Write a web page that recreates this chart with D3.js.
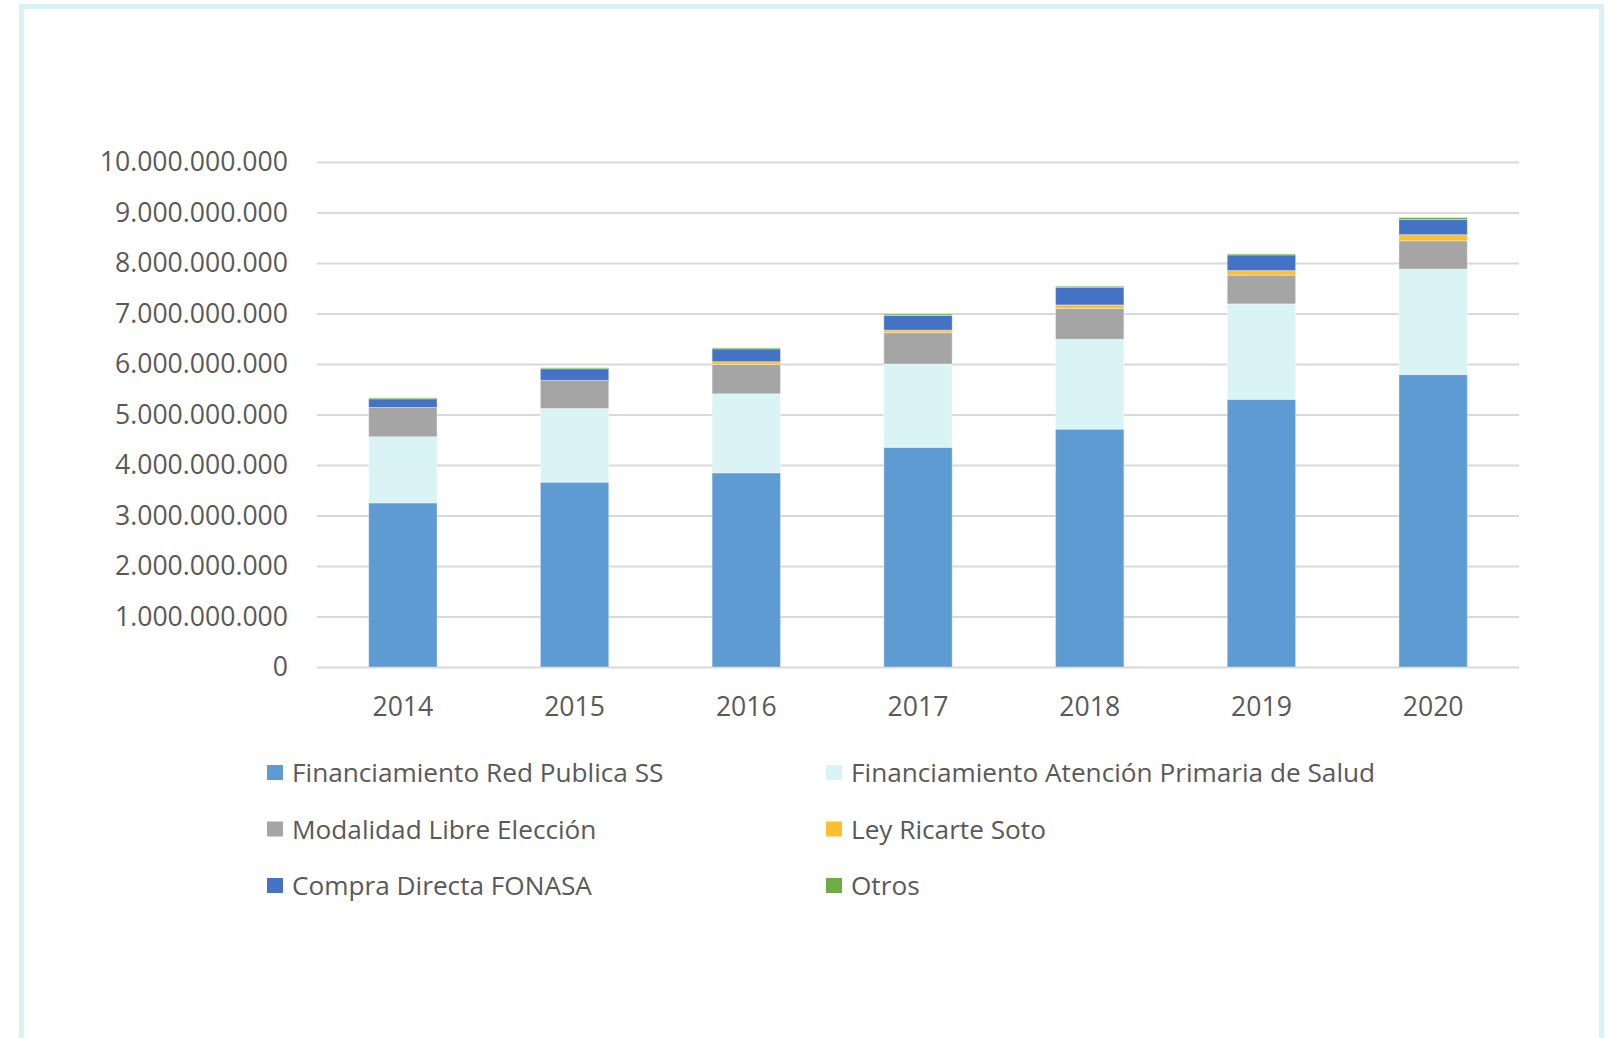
<!DOCTYPE html>
<html>
<head>
<meta charset="utf-8">
<title>Financiamiento</title>
<script src="https://cdnjs.cloudflare.com/ajax/libs/d3/7.8.5/d3.min.js"></script>
<style>
body { margin: 0; background: #fff; }
text { font-family: "Open Sans", sans-serif; fill: #595959; }
</style>
</head>
<body>
<div id="chart"></div>
<script>
// values (pesos)
var years = ["2014", "2015", "2016", "2017", "2018", "2019", "2020"];
var redPublica      = [3250000000, 3660000000, 3845000000, 4350000000, 4710000000, 5300000000, 5790000000];
var atencionPrimaria = [1310000000, 1460000000, 1565000000, 1650000000, 1780000000, 1890000000, 2090000000];
var libreEleccion   = [580000000, 555000000, 580000000, 620000000, 610000000, 570000000, 560000000];
var ricarteSoto     = [0, 0, 55000000, 50000000, 70000000, 90000000, 120000000];
var compraDirecta   = [170000000, 230000000, 255000000, 290000000, 350000000, 310000000, 300000000];
var otros           = [20000000, 20000000, 20000000, 30000000, 20000000, 20000000, 40000000];
var yTicks = [0, 1e9, 2e9, 3e9, 4e9, 5e9, 6e9, 7e9, 8e9, 9e9, 1e10];

var seriesNames = ["Financiamiento Red Publica SS", "Financiamiento Atención Primaria de Salud",
                   "Modalidad Libre Elección", "Ley Ricarte Soto", "Compra Directa FONASA", "Otros"];
var seriesValues = [redPublica, atencionPrimaria, libreEleccion, ricarteSoto, compraDirecta, otros];
var colors = ["#5e9bd3", "#daf4f5", "#a5a5a5", "#fdbf2d", "#4472c4", "#70ad47"];

var W = 1610, H = 1038;
var plot = {left: 317, right: 1519, top: 162, bottom: 667};

var svg = d3.select("#chart").append("svg")
    .attr("width", W)
    .attr("height", H);

// frame
svg.append("rect")
   .attr("x", 21.5).attr("y", 6.5)
   .attr("width", 1580).attr("height", 1100)
   .attr("fill", "none")
   .attr("stroke", "#d9f3f5")
   .attr("stroke-width", 5);

var x = d3.scaleBand()
    .domain(years)
    .range([plot.left, plot.right])
    .paddingInner(0.602)
    .paddingOuter(0.301);

var y = d3.scaleLinear()
    .domain([0, 1e10])
    .range([plot.bottom, plot.top]);

var locale = d3.formatLocale({decimal: ",", thousands: ".", grouping: [3], currency: ["$", ""]});
var fmt = locale.format(",.0f");

// gridlines + y labels
var yAxis = svg.append("g")
    .attr("transform", "translate(" + plot.left + ",0)")
    .call(d3.axisLeft(y).tickValues(yTicks).tickFormat(fmt)
            .tickSize(-(plot.right - plot.left)).tickPadding(29));
yAxis.select(".domain").remove();
yAxis.selectAll("line").attr("stroke", "#d9d9d9").attr("stroke-width", 2);
yAxis.selectAll("text")
     .attr("font-family", "'Open Sans', sans-serif")
     .attr("font-size", "26.6px")
     .attr("fill", "#595959");

// stacked bars
var table = years.map(function(yr, i) {
    var row = {year: yr};
    seriesNames.forEach(function(n, k) { row[n] = seriesValues[k][i]; });
    return row;
});
var stacked = d3.stack().keys(seriesNames)(table);

svg.append("g").selectAll("g")
   .data(stacked)
   .join("g")
   .attr("fill", function(d, k) { return colors[k]; })
   .selectAll("rect")
   .data(function(d) { return d; })
   .join("rect")
   .attr("x", function(d) { return x(d.data.year); })
   .attr("y", function(d) { return y(d[1]); })
   .attr("width", x.bandwidth())
   .attr("height", function(d) { return y(d[0]) - y(d[1]); })
   .attr("stroke", "#ffffff")
   .attr("stroke-opacity", 0.35)
   .attr("stroke-width", 1);

// x labels
var xAxis = svg.append("g")
    .attr("transform", "translate(0," + plot.bottom + ")")
    .call(d3.axisBottom(x).tickSize(0).tickPadding(30));
xAxis.select(".domain").remove();
xAxis.selectAll("text")
     .attr("font-family", "'Open Sans', sans-serif")
     .attr("font-size", "26.6px")
     .attr("fill", "#595959");

// legend
var legend = svg.append("g").selectAll("g")
    .data(seriesNames)
    .join("g")
    .attr("transform", function(d, i) {
        var col = i % 2, row = Math.floor(i / 2);
        return "translate(" + (col === 0 ? 267 : 826) + "," + (772.5 + row * 56.5) + ")";
    });

legend.append("rect")
      .attr("x", 0).attr("y", -7.5)
      .attr("width", 16).attr("height", 15)
      .attr("fill", function(d, i) { return colors[i]; });

legend.append("text")
      .attr("x", 25)
      .attr("y", 9.5)
      .attr("font-size", "26.2px")
      .text(function(d) { return d; });
</script>
</body>
</html>
